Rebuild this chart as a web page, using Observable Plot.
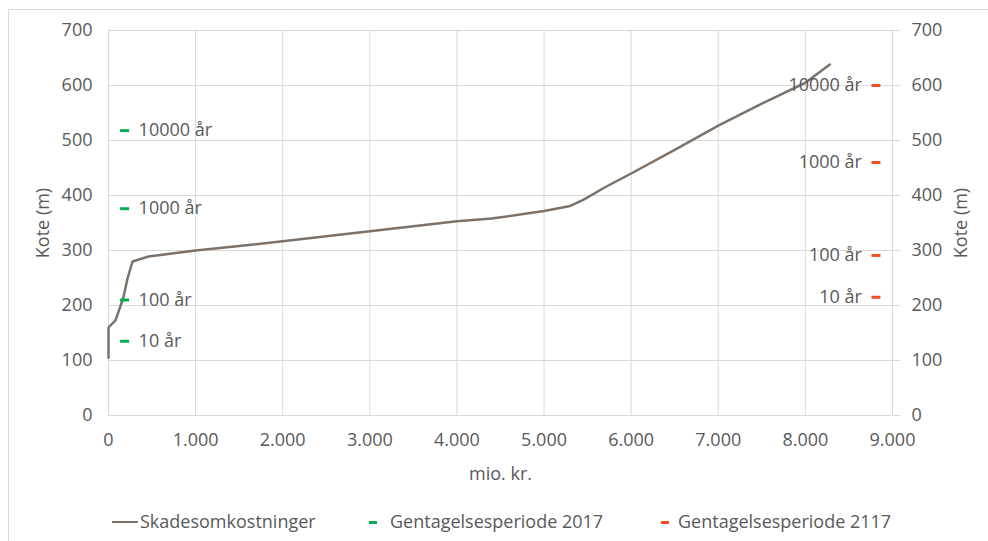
<!DOCTYPE html>
<html><head><meta charset="utf-8">
<script src="https://cdn.jsdelivr.net/npm/d3@7"></script>
<script src="https://cdn.jsdelivr.net/npm/@observablehq/plot@0.6"></script>
<style>
body{margin:0;background:#fff;font-family:"Open Sans",sans-serif;}
#wrap{position:relative;width:988px;height:541px;overflow:hidden;}
#frame{position:absolute;left:8px;top:9px;width:1000px;height:560px;border:1px solid #d9d9d9;box-sizing:border-box;}
#chart{position:absolute;left:0;top:0;}
#legend{position:absolute;top:508px;left:0;width:988px;height:26px;font-size:18px;color:#595959;}
.item{position:absolute;top:0;line-height:26px;white-space:nowrap;}
.sw{display:inline-block;vertical-align:middle;}
</style></head>
<body><div id="wrap"><div id="frame"></div><div id="chart"></div>
<div id="legend">
<div class="item" style="left:112px"><span class="sw" style="width:26px;height:2.5px;background:#7d726a;margin-right:2px;position:relative;top:-1px"></span>Skadesomkostninger</div>
<div class="item" style="left:369px"><span class="sw" style="width:8px;height:3px;background:#00b050;margin-right:13px;position:relative;top:-1px"></span>Gentagelsesperiode 2017</div>
<div class="item" style="left:661px"><span class="sw" style="width:8px;height:3px;background:#f4511e;margin-right:9px;position:relative;top:-1px"></span>Gentagelsesperiode 2117</div>
</div></div>
<script>
const cost = [0, 0, 80, 172, 218, 276, 459, 1000, 1500, 2000, 2500, 3000, 3500, 4000, 4400, 5000, 5300, 5450, 5700, 6000, 6500, 7000, 7500, 8000, 8280];
const kote = [105, 160, 173, 215, 249, 280, 289, 300, 308, 317, 326, 335, 344, 353, 358, 372, 381, 392, 415, 440, 483, 527, 567, 605, 638];
const periods = ["10 år", "100 år", "1000 år", "10000 år"];
const green2017X = 185;
const green2017Y = [135, 210, 376, 518];
const orange2117X = 8810;
const orange2117Y = [215, 291, 460, 600];
const xTicks = [0, 1000, 2000, 3000, 4000, 5000, 6000, 7000, 8000, 9000];
const yTicks = [0, 100, 200, 300, 400, 500, 600, 700];

const lineData = cost.map((c, i) => ({x: c, y: kote[i]}));
const gData = periods.map((p, i) => ({x: green2017X, y: green2017Y[i], label: p}));
const oData = periods.map((p, i) => ({x: orange2117X, y: orange2117Y[i], label: p}));
const fmt = d => d3.format(",")(d).replace(/,/g, ".");
const dash = {draw(ctx, size){ ctx.rect(-4.5, -1.5, 9, 3); }};

const plot = Plot.plot({
  width: 988, height: 490,
  marginLeft: 108, marginRight: 96, marginTop: 30, marginBottom: 75,
  style: {fontFamily: "Open Sans, sans-serif", fontSize: "18px", color: "#595959", background: "transparent"},
  x: {domain: [0, 9000]},
  y: {domain: [0, 700]},
  marks: [
    Plot.gridX(xTicks, {stroke: "#d9d9d9", strokeOpacity: 1}),
    Plot.gridY(yTicks, {stroke: "#d9d9d9", strokeOpacity: 1}),
    Plot.axisY(yTicks, {anchor: "left", tickSize: 0, tickPadding: 16, fontSize: 18, label: "Kote (m)", labelAnchor: "center", labelArrow: "none", labelOffset: 72, fill: "#595959"}),
    Plot.axisY(yTicks, {anchor: "right", tickSize: 7, stroke: "#d9d9d9", tickPadding: 12, fontSize: 18, label: "Kote (m)", labelAnchor: "center", labelArrow: "none", labelOffset: 74, fill: "#595959"}),
    Plot.axisX(xTicks, {tickSize: 0, tickPadding: 18, fontSize: 18, tickFormat: fmt, label: "mio. kr.", labelAnchor: "center", labelArrow: "none", labelOffset: 64, fill: "#595959"}),
    Plot.ruleX([0], {stroke: "#d9d9d9"}),
    Plot.ruleX([9000], {stroke: "#d9d9d9"}),
    Plot.ruleY([0], {stroke: "#d9d9d9"}),
    Plot.line(lineData, {x: "x", y: "y", stroke: "#7d726a", strokeWidth: 2.5}),
    Plot.dot(gData, {x: "x", y: "y", symbol: dash, fill: "#00b050", stroke: null, r: 4}),
    Plot.text(gData, {x: "x", y: "y", text: "label", textAnchor: "start", dx: 14, fill: "#595959", fontSize: 18}),
    Plot.dot(oData, {x: "x", y: "y", symbol: dash, fill: "#f4511e", stroke: null, r: 4}),
    Plot.text(oData, {x: "x", y: "y", text: "label", textAnchor: "end", dx: -14, fill: "#595959", fontSize: 18})
  ]
});
document.getElementById("chart").appendChild(plot);
</script></body></html>
